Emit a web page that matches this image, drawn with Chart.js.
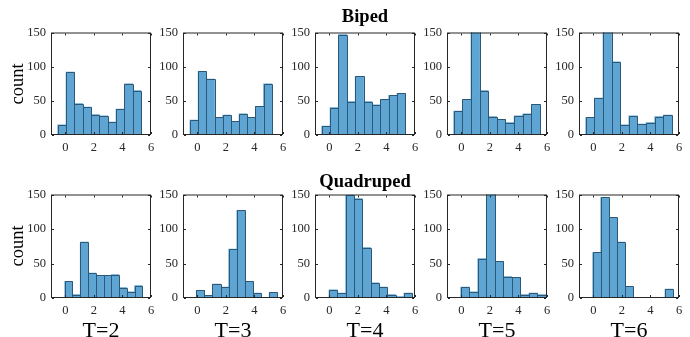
<!DOCTYPE html>
<html>
<head>
<meta charset="utf-8">
<script src="https://cdn.jsdelivr.net/npm/chart.js@4.4.1/dist/chart.umd.min.js"></script>
<style>
  body { margin: 0; background: #fff; }
  #wrap { position: relative; width: 690px; height: 337px; overflow: hidden; font-family: "Liberation Serif", "Times New Roman", serif; color: #000; }
  #wrap canvas { position: absolute; }
  .lbl { position: absolute; white-space: nowrap; line-height: 1; transform: translate(-50%, -50%); }
  .ttl { font-weight: bold; font-size: 18.5px; }
  .ylab { font-size: 18.5px; transform: translate(-50%, -50%) rotate(-90deg); }
  .xlab { font-size: 22px; }
</style>
</head>
<body>
<div id="wrap"></div>
<script>
// --- data ---
const rowNames = ['Biped', 'Quadruped'];
const stepLabels = ['T=2', 'T=3', 'T=4', 'T=5', 'T=6'];
const xTicks = [0, 2, 4, 6];
const yTicks = [0, 50, 100, 150];

// first bin edge and bin width of every histogram
const bipedBinStart = [-0.53, -0.51, -0.53, -0.53, -0.53];
const bipedBinWidth = [0.583, 0.572, 0.586, 0.604, 0.604];
const bipedCounts = [
  [15, 92, 46, 41, 30, 28, 19, 38, 75, 65],
  [22, 93, 82, 26, 29, 20, 31, 26, 42, 75],
  [13, 40, 147, 49, 86, 49, 44, 52, 58, 61],
  [35, 52, 172, 65, 27, 23, 18, 28, 31, 45],
  [26, 54, 168, 107, 15, 28, 16, 18, 27, 29]
];

const quadBinStart = [-0.04, -0.07, -0.02, -0.04, -0.04];
const quadBinWidth = [0.543, 0.567, 0.583, 0.597, 0.562];
const quadCounts = [
  [24, 5, 81, 36, 33, 33, 34, 15, 9, 18],
  [11, 4, 20, 16, 71, 127, 24, 7, 0, 8],
  [12, 7, 149, 144, 73, 22, 16, 5, 2, 7],
  [16, 9, 57, 180, 53, 31, 30, 5, 7, 5],
  [66, 146, 117, 81, 17, 0, 1, 0, 0, 13]
];

// --- layout ---
const PLOT_W = 100;
const ROW_H = [103, 104];
const COL_LEFT = [51, 183, 315, 447, 579];
const ROW_TOP = [32, 194];
const PAD_L = 36, PAD_T = 12, PAD_R = 10, X_H = 24;

const FACE = '#5fa5d4';
const EDGE = '#2c5877';
const AXIS = '#262626';
const tickFont = { family: 'Liberation Serif', size: 12.5 };

// bar outlines + matlab style box with inward ticks
const histPlugin = {
  id: 'histPlugin',
  afterDatasetsDraw(chart) {
    const ctx = chart.ctx, a = chart.chartArea;
    ctx.save();
    ctx.beginPath();
    ctx.rect(a.left, a.top, a.right - a.left, a.bottom - a.top);
    ctx.clip();
    ctx.strokeStyle = EDGE;
    ctx.lineWidth = 1;
    chart.getDatasetMeta(0).data.forEach(bar => {
      const p = bar.getProps(['x', 'y', 'base', 'width']);
      if (p.base - p.y < 0.5) return;
      const l = Math.round(p.x - p.width / 2) + 0.5;
      const r = Math.round(p.x + p.width / 2) + 0.5;
      const t = Math.round(p.y) + 0.5;
      ctx.beginPath();
      ctx.moveTo(l, p.base);
      ctx.lineTo(l, t);
      ctx.lineTo(r, t);
      ctx.lineTo(r, p.base);
      ctx.stroke();
    });
    ctx.restore();
  },
  afterDraw(chart) {
    const ctx = chart.ctx, a = chart.chartArea;
    const xs = chart.scales.x, ys = chart.scales.y;
    const len = 2;
    ctx.save();
    ctx.strokeStyle = AXIS;
    ctx.lineWidth = 1;
    ctx.strokeRect(a.left + 0.5, a.top + 0.5, a.right - a.left - 1, a.bottom - a.top - 1);
    ctx.beginPath();
    xTicks.forEach(v => {
      const px = Math.round(xs.getPixelForValue(v)) + 0.5;
      ctx.moveTo(px, a.bottom - 1); ctx.lineTo(px, a.bottom - 1 - len);
      ctx.moveTo(px, a.top + 1); ctx.lineTo(px, a.top + 1 + len);
    });
    yTicks.forEach(v => {
      const py = Math.round(ys.getPixelForValue(v)) + 0.5;
      ctx.moveTo(a.left + 1, py); ctx.lineTo(a.left + 1 + len, py);
      ctx.moveTo(a.right - 1, py); ctx.lineTo(a.right - 1 - len, py);
    });
    ctx.stroke();
    ctx.restore();
  }
};

const wrap = document.getElementById('wrap');

function addLabel(text, cls, x, y) {
  const d = document.createElement('div');
  d.className = 'lbl ' + cls;
  d.textContent = text;
  d.style.left = x + 'px';
  d.style.top = y + 'px';
  wrap.appendChild(d);
}

function makePanel(row, col, counts, start, width) {
  const cv = document.createElement('canvas');
  cv.width = PAD_L + PLOT_W + PAD_R;
  cv.height = PAD_T + ROW_H[row] + X_H;
  cv.style.left = (COL_LEFT[col] - PAD_L) + 'px';
  cv.style.top = (ROW_TOP[row] - PAD_T) + 'px';
  wrap.appendChild(cv);

  const points = counts.map((c, i) => ({ x: start + (i + 0.5) * width, y: c }));

  new Chart(cv, {
    type: 'bar',
    data: {
      datasets: [{
        data: points,
        backgroundColor: FACE,
        borderWidth: 0,
        barPercentage: 1,
        categoryPercentage: 1
      }]
    },
    options: {
      responsive: false,
      animation: false,
      events: [],
      layout: { padding: { left: 0, top: PAD_T, right: PAD_R, bottom: 0 } },
      plugins: { legend: { display: false }, tooltip: { enabled: false } },
      scales: {
        x: {
          type: 'linear',
          min: -1, max: 6,
          offset: false,
          grid: { display: false, drawTicks: false, tickLength: 0 },
          border: { display: false },
          afterBuildTicks: s => { s.ticks = xTicks.map(v => ({ value: v })); },
          afterFit: s => { s.height = X_H; },
          ticks: { font: tickFont, color: AXIS, padding: 5, maxRotation: 0, autoSkip: false }
        },
        y: {
          min: 0, max: 150,
          grid: { display: false, drawTicks: false, tickLength: 0 },
          border: { display: false },
          afterBuildTicks: s => { s.ticks = yTicks.map(v => ({ value: v })); },
          afterFit: s => { s.width = PAD_L; },
          ticks: { font: tickFont, color: AXIS, padding: 5 }
        }
      }
    },
    plugins: [histPlugin]
  });
}

for (let c = 0; c < 5; c++) {
  makePanel(0, c, bipedCounts[c], bipedBinStart[c], bipedBinWidth[c]);
  makePanel(1, c, quadCounts[c], quadBinStart[c], quadBinWidth[c]);
}

// titles and axis labels
addLabel(rowNames[0], 'ttl', COL_LEFT[2] + PLOT_W / 2, 16);
addLabel(rowNames[1], 'ttl', COL_LEFT[2] + PLOT_W / 2, 181);
addLabel('count', 'ylab', 17, ROW_TOP[0] + ROW_H[0] / 2);
addLabel('count', 'ylab', 17, ROW_TOP[1] + ROW_H[1] / 2);
stepLabels.forEach((s, c) => addLabel(s, 'xlab', COL_LEFT[c] + PLOT_W / 2, 330));
</script>
</body>
</html>
